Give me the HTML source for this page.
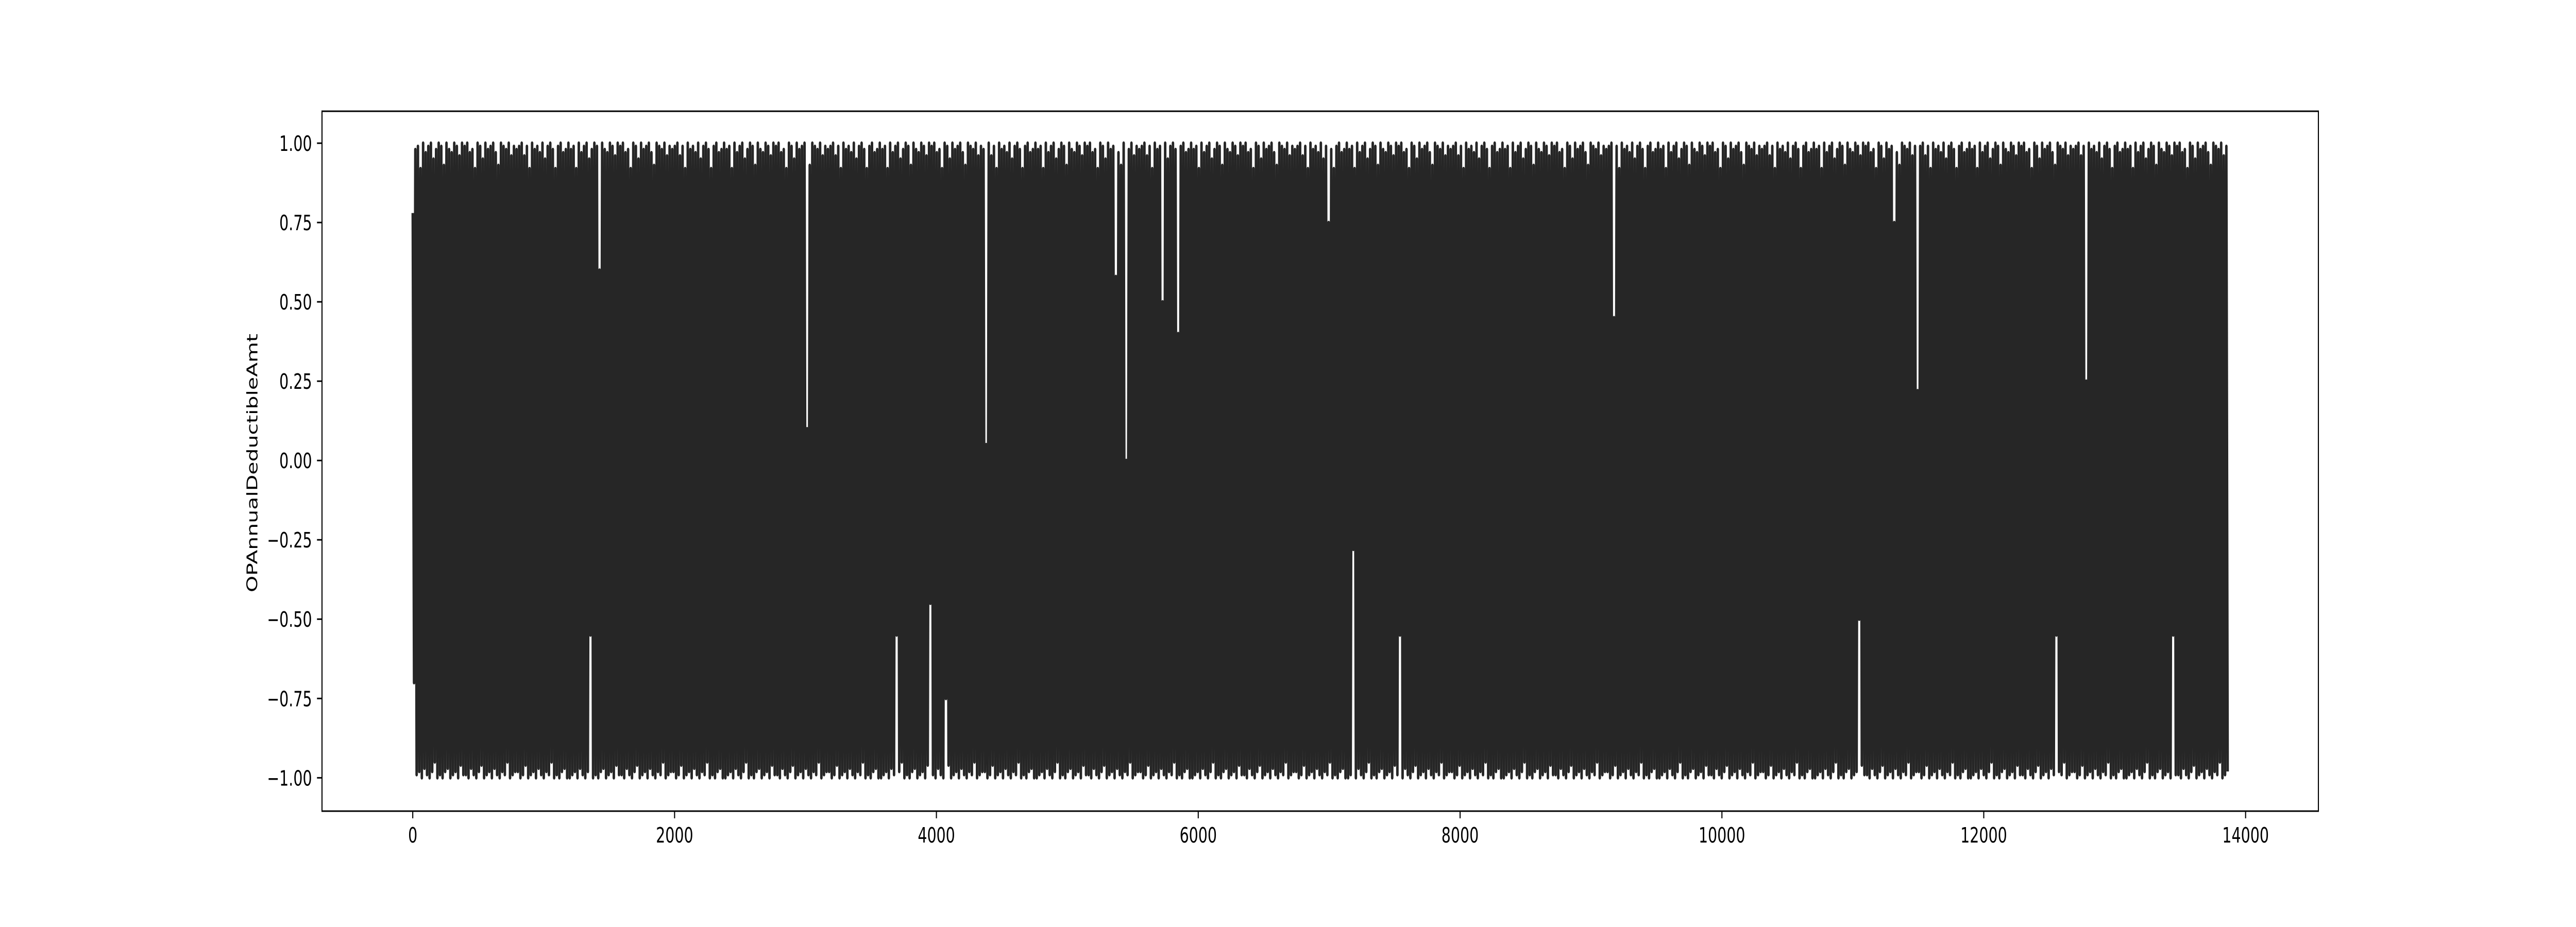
<!DOCTYPE html>
<html><head><meta charset="utf-8"><style>
html,body{margin:0;padding:0;background:#fff;overflow:hidden;width:100vw;height:100vh}
svg{display:block;width:100vw;height:100vh}
text{font-family:"DejaVu Sans","Liberation Sans",sans-serif;font-size:41px;fill:#000}
</style></head><body>
<svg id="chart" viewBox="0 0 7200 1800" preserveAspectRatio="none" xmlns="http://www.w3.org/2000/svg">
<rect width="7200" height="1800" fill="#fff"/>
<g id="plot"></g>
<g id="axes"></g>
<text transform="translate(719,899) rotate(-90)" text-anchor="middle">OPAnnualDeductibleAmt</text>
</svg>
<script>
const lastIndex = 13863;
const xTicks = [0,2000,4000,6000,8000,10000,12000,14000];
const xTickLabels = ["0","2000","4000","6000","8000","10000","12000","14000"];
const yTicks = [-1,-0.75,-0.5,-0.25,0,0.25,0.5,0.75,1];
const yTickLabels = ["\u22121.00","\u22120.75","\u22120.50","\u22120.25","0.00","0.25","0.50","0.75","1.00"];
const highs = [
.78,.98,.99,.92,1,.97,.99,1,.95,.98,1,.99,.93,1,.98,.97,1,.99,.96,1,
.99,1,.97,.98,.92,1,.99,.95,1,.98,.99,1,.97,.93,1,.99,.98,1,.96,.99,
.98,.99,1,.96,.99,.92,1,.98,.99,.97,1,.95,.99,1,.98,.92,.99,1,.97,.98,
1,.98,.99,.92,1,.97,.99,1,.95,.98,1,.99,.6,1,.98,.97,1,.99,.96,1,
.99,1,.97,.98,.92,1,.99,.95,1,.98,.99,1,.97,.93,1,.99,.98,1,.96,.99,
.98,.99,1,.96,.99,.92,1,.98,.99,.97,1,.95,.99,1,.98,.92,.99,1,.97,.98,
1,.98,.99,.92,1,.97,.99,1,.95,.98,1,.99,.93,1,.98,.97,1,.99,.96,1,
.99,1,.97,.98,.92,1,.99,.95,1,.98,.99,1,.1,.93,1,.99,.98,1,.96,.99,
.98,.99,1,.96,.99,.92,1,.98,.99,.97,1,.95,.99,1,.98,.92,.99,1,.97,.98,
1,.98,.99,.92,1,.97,.99,1,.95,.98,1,.99,.93,1,.98,.97,1,.99,.96,1,
.99,1,.97,.98,.92,1,.99,.95,1,.98,.99,1,.97,.93,1,.99,.98,1,.96,.99,
.98,.05,1,.96,.99,.92,1,.98,.99,.97,1,.95,.99,1,.98,.92,.99,1,.97,.98,
1,.98,.99,.92,1,.97,.99,1,.95,.98,1,.99,.93,1,.98,.97,1,.99,.96,1,
.99,1,.97,.98,.92,1,.99,.95,1,.98,.99,.58,.97,.93,1,0,.98,1,.96,.99,
.98,.99,1,.96,.99,.92,1,.98,.99,.5,1,.95,.99,1,.98,.4,.99,1,.97,.98,
1,.98,.99,.92,1,.97,.99,1,.95,.98,1,.99,.93,1,.98,.97,1,.99,.96,1,
.99,1,.97,.98,.92,1,.99,.95,1,.98,.99,1,.97,.93,1,.99,.98,1,.96,.99,
.98,.99,1,.96,.99,.92,1,.98,.99,.97,1,.95,.99,.75,.98,.92,.99,1,.97,.98,
1,.98,.99,.92,1,.97,.99,1,.95,.98,1,.99,.93,1,.98,.97,1,.99,.96,1,
.99,1,.97,.98,.92,1,.99,.95,1,.98,.99,1,.97,.93,1,.99,.98,1,.96,.99,
.98,.99,1,.96,.99,.92,1,.98,.99,.97,1,.95,.99,1,.98,.92,.99,1,.97,.98,
1,.98,.99,.92,1,.97,.99,1,.95,.98,1,.99,.93,1,.98,.97,1,.99,.96,1,
.99,1,.97,.98,.92,1,.99,.95,1,.98,.99,1,.97,.93,1,.99,.98,1,.96,.99,
.98,.99,1,.45,.99,.92,1,.98,.99,.97,1,.95,.99,1,.98,.92,.99,1,.97,.98,
1,.98,.99,.92,1,.97,.99,1,.95,.98,1,.99,.93,1,.98,.97,1,.99,.96,1,
.99,1,.97,.98,.92,1,.99,.95,1,.98,.99,1,.97,.93,1,.99,.98,1,.96,.99,
.98,.99,1,.96,.99,.92,1,.98,.99,.97,1,.95,.99,1,.98,.92,.99,1,.97,.98,
1,.98,.99,.92,1,.97,.99,1,.95,.98,1,.99,.93,1,.98,.97,1,.99,.96,1,
.99,1,.97,.98,.92,1,.99,.95,1,.98,.99,.75,.97,.93,1,.99,.98,1,.96,.99,
.22,.99,1,.96,.99,.92,1,.98,.99,.97,1,.95,.99,1,.98,.92,.99,1,.97,.98,
1,.98,.99,.92,1,.97,.99,1,.95,.98,1,.99,.93,1,.98,.97,1,.99,.96,1,
.99,1,.97,.98,.92,1,.99,.95,1,.98,.99,1,.97,.93,1,.99,.98,1,.96,.99,
.98,.99,1,.96,.99,.25,1,.98,.99,.97,1,.95,.99,1,.98,.92,.99,1,.97,.98,
1,.98,.99,.92,1,.97,.99,1,.95,.98,1,.99,.93,1,.98,.97,1,.99,.96,1,
.99,1,.97,.98,.92,1,.99,.95,1,.98,.99,1,.97,.93,1,.99,.98,1,.96,.99
];
const lows = [
-.7,-.99,-.98,-1,-.97,-.99,-1,-.98,-.95,-1,-.99,-1,-.98,-.97,-1,-.99,-.98,-1,-.96,-.99,
-.99,-1,-.97,-.99,-1,-.98,-.96,-1,-.99,-.98,-1,-.97,-.99,-1,-.98,-.99,-.95,-1,-.99,-.98,
-.98,-1,-.99,-.96,-1,-.99,-.98,-1,-.97,-.99,-1,-.98,-.99,-.95,-1,-.99,-1,-.98,-.97,-1,
-1,-.99,-.98,-1,-.97,-.99,-1,-.98,-.55,-1,-.99,-1,-.98,-.97,-1,-.99,-.98,-1,-.96,-.99,
-.99,-1,-.97,-.99,-1,-.98,-.96,-1,-.99,-.98,-1,-.97,-.99,-1,-.98,-.99,-.95,-1,-.99,-.98,
-.98,-1,-.99,-.96,-1,-.99,-.98,-1,-.97,-.99,-1,-.98,-.99,-.95,-1,-.99,-1,-.98,-.97,-1,
-1,-.99,-.98,-1,-.97,-.99,-1,-.98,-.95,-1,-.99,-1,-.98,-.97,-1,-.99,-.98,-1,-.96,-.99,
-.99,-1,-.97,-.99,-1,-.98,-.96,-1,-.99,-.98,-1,-.97,-.99,-1,-.98,-.99,-.95,-1,-.99,-.98,
-.98,-1,-.99,-.96,-1,-.99,-.98,-1,-.97,-.99,-1,-.98,-.99,-.95,-1,-.99,-1,-.98,-.97,-1,
-1,-.99,-.98,-1,-.97,-.99,-.55,-.98,-.95,-1,-.99,-1,-.98,-.97,-1,-.99,-.98,-1,-.96,-.45,
-.99,-1,-.97,-.99,-1,-.75,-.96,-1,-.99,-.98,-1,-.97,-.99,-1,-.98,-.99,-.95,-1,-.99,-.98,
-.98,-1,-.99,-.96,-1,-.99,-.98,-1,-.97,-.99,-1,-.98,-.99,-.95,-1,-.99,-1,-.98,-.97,-1,
-1,-.99,-.98,-1,-.97,-.99,-1,-.98,-.95,-1,-.99,-1,-.98,-.97,-1,-.99,-.98,-1,-.96,-.99,
-.99,-1,-.97,-.99,-1,-.98,-.96,-1,-.99,-.98,-1,-.97,-.99,-1,-.98,-.99,-.95,-1,-.99,-.98,
-.98,-1,-.99,-.96,-1,-.99,-.98,-1,-.97,-.99,-1,-.98,-.99,-.95,-1,-.99,-1,-.98,-.97,-1,
-1,-.99,-.98,-1,-.97,-.99,-1,-.98,-.95,-1,-.99,-1,-.98,-.97,-1,-.99,-.98,-1,-.96,-.99,
-.99,-1,-.97,-.99,-1,-.98,-.96,-1,-.99,-.98,-1,-.97,-.99,-1,-.98,-.99,-.95,-1,-.99,-.98,
-.98,-1,-.99,-.96,-1,-.99,-.98,-1,-.97,-.99,-1,-.98,-.99,-.95,-1,-.99,-1,-.98,-.97,-1,
-1,-.99,-.28,-1,-.97,-.99,-1,-.98,-.95,-1,-.99,-1,-.98,-.97,-1,-.99,-.98,-1,-.96,-.99,
-.55,-1,-.97,-.99,-1,-.98,-.96,-1,-.99,-.98,-1,-.97,-.99,-1,-.98,-.99,-.95,-1,-.99,-.98,
-.98,-1,-.99,-.96,-1,-.99,-.98,-1,-.97,-.99,-1,-.98,-.99,-.95,-1,-.99,-1,-.98,-.97,-1,
-1,-.99,-.98,-1,-.97,-.99,-1,-.98,-.95,-1,-.99,-1,-.98,-.97,-1,-.99,-.98,-1,-.96,-.99,
-.99,-1,-.97,-.99,-1,-.98,-.96,-1,-.99,-.98,-1,-.97,-.99,-1,-.98,-.99,-.95,-1,-.99,-.98,
-.98,-1,-.99,-.96,-1,-.99,-.98,-1,-.97,-.99,-1,-.98,-.99,-.95,-1,-.99,-1,-.98,-.97,-1,
-1,-.99,-.98,-1,-.97,-.99,-1,-.98,-.95,-1,-.99,-1,-.98,-.97,-1,-.99,-.98,-1,-.96,-.99,
-.99,-1,-.97,-.99,-1,-.98,-.96,-1,-.99,-.98,-1,-.97,-.99,-1,-.98,-.99,-.95,-1,-.99,-.98,
-.98,-1,-.99,-.96,-1,-.99,-.98,-1,-.97,-.99,-1,-.98,-.99,-.95,-1,-.99,-1,-.98,-.97,-1,
-1,-.99,-.98,-1,-.97,-.99,-1,-.98,-.95,-1,-.99,-1,-.98,-.97,-1,-.99,-.98,-.5,-.96,-.99,
-.99,-1,-.97,-.99,-1,-.98,-.96,-1,-.99,-.98,-1,-.97,-.99,-1,-.98,-.99,-.95,-1,-.99,-.98,
-.98,-1,-.99,-.96,-1,-.99,-.98,-1,-.97,-.99,-1,-.98,-.99,-.95,-1,-.99,-1,-.98,-.97,-1,
-1,-.99,-.98,-1,-.97,-.99,-1,-.98,-.95,-1,-.99,-1,-.98,-.97,-1,-.99,-.98,-1,-.96,-.99,
-.99,-1,-.97,-.99,-1,-.98,-.96,-1,-.99,-.98,-1,-.97,-.99,-.55,-.98,-.99,-.95,-1,-.99,-.98,
-.98,-1,-.99,-.96,-1,-.99,-.98,-1,-.97,-.99,-1,-.98,-.99,-.95,-1,-.99,-1,-.98,-.97,-1,
-1,-.99,-.98,-1,-.97,-.99,-1,-.98,-.95,-1,-.99,-1,-.98,-.97,-1,-.99,-.98,-1,-.55,-.99,
-.99,-1,-.97,-.99,-1,-.98,-.96,-1,-.99,-.98,-1,-.97,-.99,-1,-.98,-.99,-.95,-1,-.99,-.98
];

const NS = "http://www.w3.org/2000/svg";
const L = 900, R = 6480, T = 216, B = 1575;
const xMin = -lastIndex * 0.05, xMax = lastIndex * 1.05;
const yMin = -1.105, yMax = 1.1007;
function xScale(v){ return L + (v - xMin) / (xMax - xMin) * (R - L); }
function yScale(v){ return B - (v - yMin) / (yMax - yMin) * (B - T); }

const plot = document.getElementById('plot');
const axes = document.getElementById('axes');

const n = highs.length;
const total = n * 2;
let d = "";
for (let k = 0; k < n; k++) {
  const i1 = 2 * k, i2 = 2 * k + 1;
  const x1 = xScale(i1 / (total - 1) * lastIndex);
  const x2 = xScale(i2 / (total - 1) * lastIndex);
  d += (k === 0 ? "M" : "L") + x1.toFixed(2) + "," + yScale(highs[k]).toFixed(2);
  d += "L" + x2.toFixed(2) + "," + yScale(lows[k]).toFixed(2);
}
const line = document.createElementNS(NS, 'path');


line.setAttribute('d', d);
line.setAttribute('fill', 'none');
line.setAttribute('stroke', '#262626');
line.setAttribute('stroke-width', '7');
line.setAttribute('stroke-linejoin', 'round');
plot.appendChild(line);

const frame = document.createElementNS(NS, 'rect');


frame.setAttribute('x', L); frame.setAttribute('y', T);
frame.setAttribute('width', R - L); frame.setAttribute('height', B - T);
frame.setAttribute('fill', 'none'); frame.setAttribute('stroke', '#000'); frame.setAttribute('stroke-width', '3');
axes.appendChild(frame);

xTicks.forEach((v, i) => {
  const x = xScale(v);
  const t = document.createElementNS(NS, 'line');
  
  
  t.setAttribute('x1', x); t.setAttribute('x2', x);
  t.setAttribute('y1', B); t.setAttribute('y2', B + 14);
  t.setAttribute('stroke', '#000'); t.setAttribute('stroke-width', '3');
  axes.appendChild(t);
  const lb = document.createElementNS(NS, 'text');
  
  
  lb.setAttribute('x', x); lb.setAttribute('y', B + 61);
  lb.setAttribute('text-anchor', 'middle');
  lb.textContent = xTickLabels[i];
  axes.appendChild(lb);
});

yTicks.forEach((v, i) => {
  const y = yScale(v);
  const t = document.createElementNS(NS, 'line');
  
  
  t.setAttribute('x1', L - 14); t.setAttribute('x2', L);
  t.setAttribute('y1', y); t.setAttribute('y2', y);
  t.setAttribute('stroke', '#000'); t.setAttribute('stroke-width', '3');
  axes.appendChild(t);
  const lb = document.createElementNS(NS, 'text');
  
  
  lb.setAttribute('x', L - 28); lb.setAttribute('y', y + 15);
  lb.setAttribute('text-anchor', 'end');
  lb.textContent = yTickLabels[i];
  axes.appendChild(lb);
});
</script>
</body></html>
